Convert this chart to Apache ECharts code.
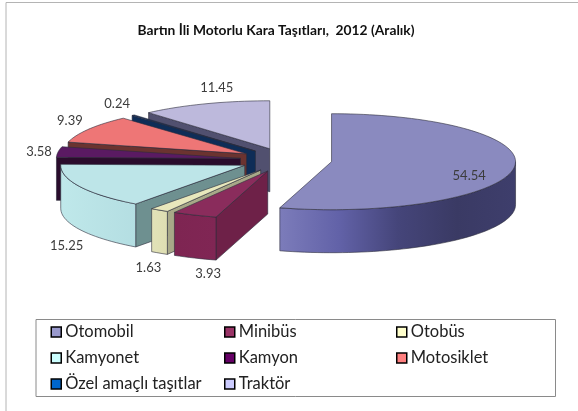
<!DOCTYPE html>
<html>
<head>
<meta charset="utf-8">
<style>html,body{margin:0;padding:0;background:#fff}#c{width:578px;height:411px}</style>
<script src="https://cdn.jsdelivr.net/npm/echarts@6/dist/echarts.min.js"></script>
</head>
<body>
<div id="c"></div>
<script>
const categories = ['Otomobil','Minibüs','Otobüs','Kamyonet','Kamyon','Motosiklet','Özel amaçlı taşıtlar','Traktör'];
const values = [54.54,3.93,1.63,15.25,3.58,9.39,0.24,11.45];
const legendColors = ['#9999CC','#993366','#FFFFCC','#CCFFFF','#660066','#FF8080','#0066CC','#CCCCFF'];
const topColors = ['#8A8ABF','#8A2C5C','#E8E8BC','#BDE5E8','#5A1A62','#EE7676','#0F3466','#BDB9DC'];
const wallColors = ['#6C6CA8','#6E2148','#A8A888','#6E9090','#2A0C2C','#6B3330','#0F2D57','#51506F'];
const rimStops = [
  ['#7C7CBA','#6262A8','#45457A','#3A3A64','#3E3E6C'],
  ['#7E2552','#802654'],['#E2E2B8','#DEDEB2'],['#BFE8EA','#B4DEE2'],
  ['#2A0C2C','#2A0C2C'],['#6B3330','#6B3330'],['#0F2D57','#0F2D57'],['#51506F','#51506F']
];
const labelNudge = [[-44.5,7.5],[13.5,59],[-11,58],[-13,59.5],[-19,0],[-19,-8],[-16,-11],[11.7,-16.4]];

const CX = 286, CY = 160, RX = 184, RY = 48, DEPTH = 43, EXPLODE = 0.25;
const total = values.reduce((a,b)=>a+b,0);
const rad = d => d*Math.PI/180;
const starts = [];
values.reduce((acc,v,i)=>{starts[i]=acc;return acc+v/total*360;},0);

function renderSlice(params, api){
  const i = params.seriesIndex;
  const a1 = starts[i], a2 = a1 + api.value(0)/total*360, m = (a1+a2)/2;
  const ax = CX + EXPLODE*RX*Math.sin(rad(m)), ay = CY - EXPLODE*RY*Math.cos(rad(m));
  const pt = (a,dy)=>[ax+RX*Math.sin(rad(a)), ay-RY*Math.cos(rad(a))+(dy||0)];
  const arc = (s,e,dy)=>{const n=Math.max(2,Math.ceil((e-s)/2)),o=[];for(let k=0;k<=n;k++)o.push(pt(s+(e-s)*k/n,dy));return o;};
  const edge = {stroke:'#2b2b3a',lineWidth:0.6,lineJoin:'round'};
  const poly = (points,fill)=>({type:'polygon',shape:{points},style:Object.assign({fill},edge)});
  const children = [];
  const wall = a => poly([[ax,ay],pt(a),pt(a,DEPTH),[ax,ay+DEPTH]],wallColors[i]);
  if (Math.sin(rad(a1)) < 0) children.push(wall(a1));
  if (Math.sin(rad(a2)) > 0) children.push(wall(a2));
  const rs = Math.max(a1,90), re = Math.min(a2,270);
  if (re > rs) {
    const stops = rimStops[i];
    const colorStops = stops.map((c,k)=>({offset:k/(stops.length-1),color:c}));
    children.push(poly(arc(rs,re,0).concat(arc(rs,re,DEPTH).reverse()),
      {type:'linear',x:0,y:0,x2:1,y2:0,colorStops}));
  }
  children.push(poly([[ax,ay]].concat(arc(a1,a2,0)),topColors[i]));
  const rim = pt(m);
  children.push({type:'text',style:{text:String(api.value(0)),x:rim[0]+labelNudge[i][0],y:rim[1]+labelNudge[i][1],
    align:'center',verticalAlign:'middle',fill:'#3c3c3c',font:'13px Lato'}});
  return {type:'group',children};
}

const legendBase = {orient:'vertical',top:323.5,icon:'rect',itemWidth:10,itemHeight:10,itemGap:9,
  textStyle:{fontFamily:'Lato',fontSize:16.5,color:'#222',padding:[0,0,0,-1]},
  itemStyle:{borderColor:'#000',borderWidth:1.5},selectedMode:false,padding:0};

const chart = echarts.init(document.getElementById('c'),null,{renderer:'canvas'});
chart.setOption({
  animation:false,
  backgroundColor:'#fff',
  title:{text:'Bartın İli Motorlu Kara Taşıtları,  2012 (Aralık)',left:276,top:24,textAlign:'center',padding:0,
    textStyle:{fontFamily:'Lato',fontSize:13.8,fontWeight:'bold',color:'#111'}},
  legend:[
    Object.assign({},legendBase,{left:50.5,data:[categories[0],categories[3],categories[6]]}),
    Object.assign({},legendBase,{left:224,data:[categories[1],categories[4],categories[7]]}),
    Object.assign({},legendBase,{left:396,data:[categories[2],categories[5]]})
  ],
  graphic:[
    {type:'rect',shape:{x:36,y:319.5,width:519.5,height:77},style:{fill:'none',stroke:'#8a8a8a',lineWidth:1}},
    {type:'polyline',shape:{points:[[6,411],[6,2.5],[578,2.5]]},style:{fill:'none',stroke:'#b4b4b4',lineWidth:1}}
  ],
  series:categories.map((name,i)=>({
    type:'custom',name,coordinateSystem:'none',z:2+categories.length-i,
    itemStyle:{color:legendColors[i]},
    data:[[values[i]]],renderItem:renderSlice,silent:true
  }))
});
</script>
</body>
</html>
